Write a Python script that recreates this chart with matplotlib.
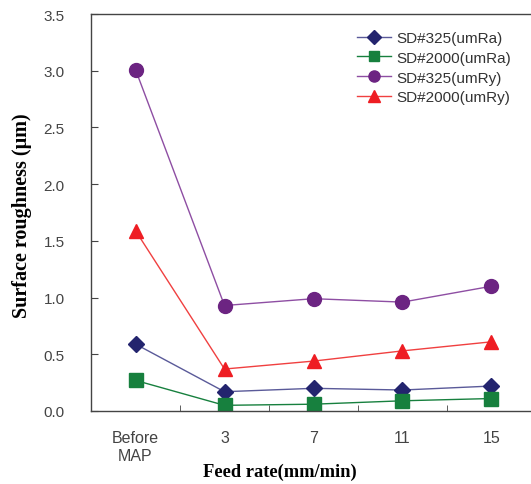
import matplotlib
matplotlib.use("Agg")
import matplotlib.pyplot as plt

categories = ["Before\nMAP", "3", "7", "11", "15"]
sd325_ra = [0.59, 0.17, 0.20, 0.185, 0.22]
sd2000_ra = [0.27, 0.05, 0.06, 0.09, 0.11]
sd325_ry = [3.01, 0.93, 0.99, 0.96, 1.10]
sd2000_ry = [1.59, 0.37, 0.44, 0.53, 0.61]

W, H = 531, 485
fig = plt.figure(figsize=(W / 100, H / 100), dpi=100)
left, right, top, bottom = 91, 536, 15, 412
ax = fig.add_axes([left / W, (H - bottom) / H, (right - left) / W, (bottom - top) / H])

x = list(range(len(categories)))
series = [
    (sd325_ra, "SD#325(umRa)", "#23246e", "#5a5a99", "D", 8.5),
    (sd2000_ra, "SD#2000(umRa)", "#17803e", "#17803e", "s", 9.5),
    (sd325_ry, "SD#325(umRy)", "#6c2482", "#8e4ea3", "o", 10),
    (sd2000_ry, "SD#2000(umRy)", "#ee1d23", "#f04040", "^", 10.5),
]
for vals, lab, mc, lc, mk, ms in series:
    ax.plot(x, vals, color=lc, lw=1.0, marker=mk, ms=ms,
            markerfacecolor=mc, markeredgecolor=mc, label=lab)

ax.set_xlim(-0.5, 4.5)
ax.set_ylim(0, 3.5)
ax.set_yticks([0, 0.5, 1.0, 1.5, 2.0, 2.5, 3.0, 3.5])
ax.set_yticklabels(["0.0", "0.5", "1.0", "1.5", "2.0", "2.5", "3.0", "3.5"],
                   fontfamily="Liberation Sans")
ax.set_xticks(x)
ax.set_xticklabels(categories, fontfamily="Liberation Sans")
ax.set_xticks([0.5, 1.5, 2.5, 3.5], minor=True)
ax.tick_params(axis="x", which="major", length=0, pad=14, labelsize=11.5, colors="#444444")
ax.tick_params(axis="x", which="minor", direction="in", length=4, color="#444444")
ax.tick_params(axis="y", direction="in", length=5, pad=19, labelsize=11,
               colors="#444444")
for s in ["left", "bottom", "top"]:
    ax.spines[s].set_color("#444444")
    ax.spines[s].set_linewidth(1.0)
ax.spines["right"].set_visible(False)

fig.text(280 / W, 1 - 472 / H, "Feed rate(mm/min)", ha="center", va="center",
         fontfamily="Liberation Serif", fontweight="bold", fontsize=13.3)
fig.text(22 / W, 1 - 216 / H, "Surface roughness (\u03bcm)", ha="center", va="center",
         rotation=90, fontfamily="Liberation Serif", fontweight="bold", fontsize=14.5)

leg = ax.legend(loc="upper left", bbox_to_anchor=(357 / W, 1 - 32 / H),
                bbox_transform=fig.transFigure, frameon=False,
                prop={"family": "Liberation Sans", "size": 11},
                handlelength=2.2, handletextpad=0.4, labelspacing=0.38,
                markerscale=0.8, borderaxespad=0, borderpad=0, labelcolor="#333333")

fig.savefig("out.png", dpi=100)
